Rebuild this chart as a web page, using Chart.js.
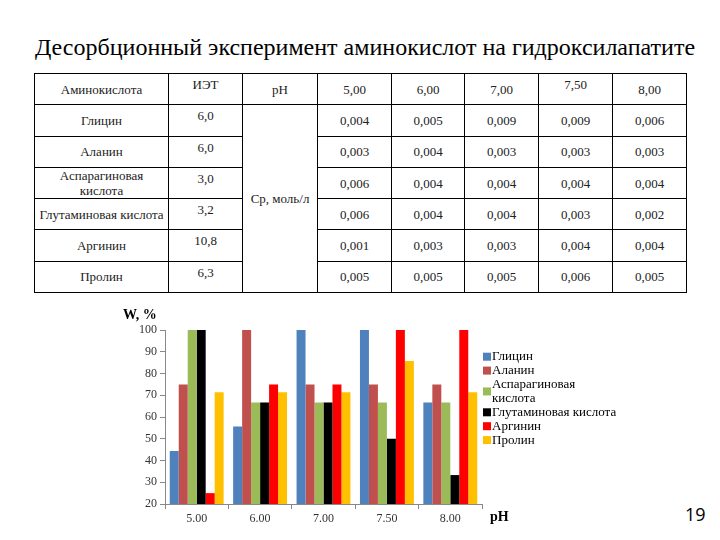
<!DOCTYPE html>
<html>
<head>
<meta charset="utf-8">
<style>
  body { margin: 0; width: 720px; height: 540px; background: #fff; position: relative; overflow: hidden;
         font-family: 'Liberation Serif', serif; color: #000; }
  #title { position: absolute; left: 0; width: 730px; top: 33px; text-align: center; font-size: 24px; line-height: 28px; white-space: nowrap;
           font-family: 'Liberation Serif', serif; }
  #tbl { position: absolute; left: 34px; top: 73px; border-collapse: collapse; table-layout: fixed; font-size: 13px; color: #222;
         font-family: 'Liberation Serif', serif; }
  #tbl td { border: 1px solid #000; height: 30.3px; padding: 0; text-align: center; vertical-align: middle; white-space: pre-line; line-height: 15px; }
  #tbl td.top { vertical-align: top; padding-top: 3px; height: 27.3px; }
  #chartBox { position: absolute; left: 100px; top: 300px; width: 560px; height: 240px; }
  #page { position: absolute; left: 685px; top: 502px; font-family: 'Open Sans', sans-serif; font-size: 18px; }
</style>
<script src="https://cdn.jsdelivr.net/npm/chart.js@4.4.1/dist/chart.umd.min.js"></script>
</head>
<body>
<div id="title">Десорбционный эксперимент аминокислот на гидроксилапатите</div>
<table id="tbl"></table>
<div id="chartBox"><canvas id="desorptionChart"></canvas></div>
<div id="page">19</div>

<script>
// Table data
const acids = ['Глицин', 'Аланин', 'Аспарагиновая\nкислота', 'Глутаминовая кислота', 'Аргинин', 'Пролин'];
const iep = ['6,0', '6,0', '3,0', '3,2', '10,8', '6,3'];
const tablePh = ['5,00', '6,00', '7,00', '7,50', '8,00'];
const concGlycine = ['0,004', '0,005', '0,009', '0,009', '0,006'];
const concAlanine = ['0,003', '0,004', '0,003', '0,003', '0,003'];
const concAspartic = ['0,006', '0,004', '0,004', '0,004', '0,004'];
const concGlutamic = ['0,006', '0,004', '0,004', '0,003', '0,002'];
const concArginine = ['0,001', '0,003', '0,003', '0,004', '0,004'];
const concProline = ['0,005', '0,005', '0,005', '0,006', '0,005'];

// Chart data (W, %)
const phLabels = ['5.00', '6.00', '7.00', '7.50', '8.00'];
const wGlycine = [44.4, 55.6, 100, 100, 66.7];
const wAlanine = [75, 100, 75, 75, 75];
const wAspartic = [100, 66.7, 66.7, 66.7, 66.7];
const wGlutamic = [100, 66.7, 66.7, 50, 33.3];
const wArginine = [25, 75, 75, 100, 100];
const wProline = [71.4, 71.4, 71.4, 85.7, 71.4];
const yTicks = { min: 20, max: 100, step: 10 };

const colors = ['#4F81BD', '#C0504D', '#9BBB59', '#000000', '#FF0000', '#FFC000'];

// Build table
const colWidths = [134, 74, 75, 74, 73, 74, 74, 74];
const tbl = document.getElementById('tbl');
const cg = document.createElement('colgroup');
colWidths.forEach(w => {
  const c = document.createElement('col');
  c.style.width = w + 'px';
  cg.appendChild(c);
});
tbl.appendChild(cg);

function cell(tr, text, cls, rowSpan) {
  const td = document.createElement('td');
  td.textContent = text;
  if (cls) td.className = cls;
  if (rowSpan) td.rowSpan = rowSpan;
  tr.appendChild(td);
  return td;
}

const head = document.createElement('tr');
cell(head, 'Аминокислота');
cell(head, 'ИЭТ', 'top');
cell(head, 'pH');
tablePh.forEach(p => cell(head, p, p === '7,50' ? 'top' : ''));
tbl.appendChild(head);

const concRows = [concGlycine, concAlanine, concAspartic, concGlutamic, concArginine, concProline];
acids.forEach((name, i) => {
  const tr = document.createElement('tr');
  cell(tr, name);
  cell(tr, iep[i], 'top');
  if (i === 0) cell(tr, 'Ср, моль/л', '', acids.length);
  concRows[i].forEach(v => cell(tr, v));
  tbl.appendChild(tr);
});

// Extra labels + legend drawn on the canvas
const slideLabels = {
  id: 'slideLabels',
  afterDraw(chart) {
    const ctx = chart.ctx;
    const area = chart.chartArea;
    ctx.save();
    ctx.fillStyle = '#000';
    ctx.textBaseline = 'middle';
    ctx.font = 'bold 14px "Liberation Serif"';
    ctx.textAlign = 'left';
    ctx.fillText('W, %', area.left - 42, 15);
    ctx.fillText('pH', area.right + 8, area.bottom + 13);

    // legend
    ctx.font = '13px "Liberation Serif"';
    const lineH = 13.9;
    let y = 56.7;
    chart.data.datasets.forEach(ds => {
      const lines = ds.label.split('\n');
      const mid = y + (lines.length - 1) * lineH / 2;
      ctx.fillStyle = ds.backgroundColor;
      ctx.fillRect(area.right + 1, mid - 4, 8, 8);
      ctx.fillStyle = '#000';
      lines.forEach((ln, k) => ctx.fillText(ln, area.right + 10, y + k * lineH));
      y += lines.length * lineH;
    });
    ctx.restore();
  }
};

const series = [wGlycine, wAlanine, wAspartic, wGlutamic, wArginine, wProline];
const axisFont = { family: "'Liberation Serif', serif", size: 12 };

new Chart(document.getElementById('desorptionChart'), {
  type: 'bar',
  data: {
    labels: phLabels,
    datasets: series.map((d, i) => ({
      label: acids[i],
      data: d,
      backgroundColor: colors[i],
      borderWidth: 0,
      categoryPercentage: 0.85,
      barPercentage: 1.0
    }))
  },
  options: {
    responsive: true,
    maintainAspectRatio: false,
    animation: false,
    layout: { padding: { top: 30, right: 178, bottom: 14, left: 0 } },
    plugins: {
      legend: { display: false },
      tooltip: { enabled: false }
    },
    scales: {
      x: {
        grid: { drawOnChartArea: false, tickLength: 5, color: '#888' },
        border: { color: '#888' },
        ticks: { font: axisFont, color: '#333', maxRotation: 0 },
        afterFit: s => { s.height = 22; }
      },
      y: {
        min: yTicks.min,
        max: yTicks.max,
        grid: { drawOnChartArea: false, tickLength: 5, color: '#888' },
        border: { color: '#888' },
        ticks: { stepSize: yTicks.step, font: axisFont, color: '#333' },
        afterFit: s => { s.width = 65; }
      }
    }
  },
  plugins: [slideLabels]
});
</script>
</body>
</html>
